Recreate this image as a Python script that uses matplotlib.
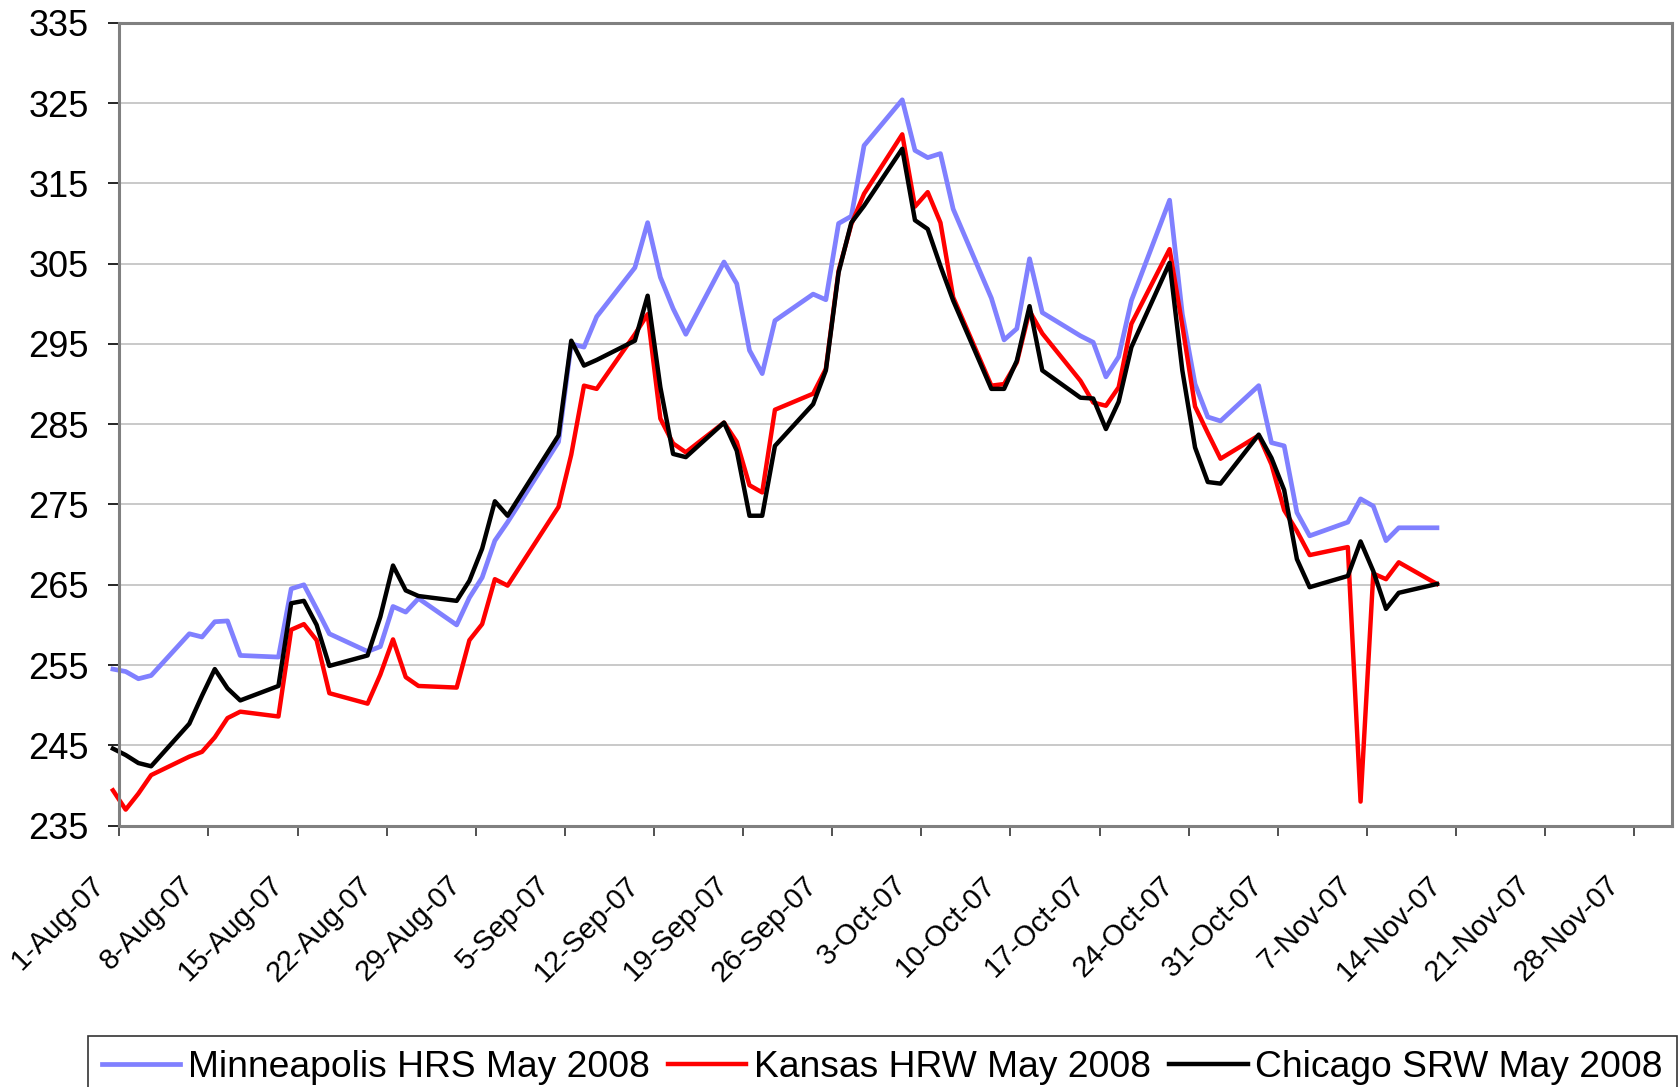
import pandas as pd
import matplotlib
matplotlib.use('Agg')
import matplotlib.pyplot as plt
from matplotlib.transforms import ScaledTranslation

plt.rcParams['font.family'] = ['Liberation Sans', 'DejaVu Sans']

# Trading days shown on the chart
dates = ['2007-07-31', '2007-08-01', '2007-08-02', '2007-08-03',
         '2007-08-06', '2007-08-07', '2007-08-08', '2007-08-09', '2007-08-10',
         '2007-08-13', '2007-08-14', '2007-08-15', '2007-08-16', '2007-08-17',
         '2007-08-20', '2007-08-21', '2007-08-22', '2007-08-23', '2007-08-24',
         '2007-08-27', '2007-08-28', '2007-08-29', '2007-08-30', '2007-08-31',
         '2007-09-04', '2007-09-05', '2007-09-06', '2007-09-07',
         '2007-09-10', '2007-09-11', '2007-09-12', '2007-09-13', '2007-09-14',
         '2007-09-17', '2007-09-18', '2007-09-19', '2007-09-20', '2007-09-21',
         '2007-09-24', '2007-09-25', '2007-09-26', '2007-09-27', '2007-09-28',
         '2007-10-01', '2007-10-02', '2007-10-03', '2007-10-04', '2007-10-05',
         '2007-10-08', '2007-10-09', '2007-10-10', '2007-10-11', '2007-10-12',
         '2007-10-15', '2007-10-16', '2007-10-17', '2007-10-18', '2007-10-19',
         '2007-10-22', '2007-10-23', '2007-10-24', '2007-10-25', '2007-10-26',
         '2007-10-29', '2007-10-30', '2007-10-31', '2007-11-01', '2007-11-02',
         '2007-11-05', '2007-11-06', '2007-11-07', '2007-11-08', '2007-11-09',
         '2007-11-12']

minneapolis = [254.5, 254.2, 253.3, 253.7,
               258.9, 258.5, 260.4, 260.5, 256.2,
               256.0, 264.5, 265.0, 262.0, 258.9,
               256.7, 257.3, 262.3, 261.6, 263.3,
               260.0, 263.4, 265.9, 270.5, 272.8,
               282.8, 295.0, 294.6, 298.4,
               304.5, 310.1, 303.3, 299.4, 296.2,
               305.2, 302.5, 294.2, 291.3, 297.9,
               301.2, 300.5, 310.0, 310.9, 319.7,
               325.4, 319.1, 318.2, 318.7, 311.8,
               300.7, 295.5, 296.9, 305.6, 298.9,
               296.0, 295.2, 290.9, 293.4, 300.4,
               312.9, 298.7, 290.0, 285.9, 285.4,
               289.8, 282.7, 282.3, 274.0, 271.1,
               272.8, 275.7, 274.8, 270.5, 272.1,
               272.1]

kansas = [239.4, 237.0, 239.0, 241.3,
          243.6, 244.2, 246.0, 248.4, 249.2,
          248.6, 259.4, 260.1, 258.1, 251.5,
          250.2, 253.8, 258.2, 253.5, 252.4,
          252.2, 258.1, 260.1, 265.7, 264.9,
          274.7, 281.2, 289.8, 289.4,
          296.2, 298.7, 285.7, 282.6, 281.5,
          285.2, 282.8, 277.4, 276.5, 286.8,
          288.8, 291.9, 304.1, 309.9, 313.7,
          321.1, 312.1, 313.9, 310.1, 300.8,
          289.8, 290.0, 292.7, 299.1, 296.3,
          290.4, 287.7, 287.3, 289.6, 297.5,
          306.8, 297.3, 287.2, 283.9, 280.7,
          283.6, 280.0, 274.3, 271.7, 268.7,
          269.7, 238.0, 266.4, 265.7, 267.8,
          265.1]

chicago = [244.6, 243.8, 242.8, 242.4,
           247.7, 251.2, 254.5, 252.1, 250.6,
           252.4, 262.7, 263.0, 260.0, 254.9,
           256.2, 261.0, 267.4, 264.3, 263.6,
           263.0, 265.5, 269.5, 275.4, 273.6,
           283.6, 295.4, 292.3, 293.0,
           295.4, 301.0, 289.6, 281.3, 280.9,
           285.2, 281.7, 273.6, 273.6, 282.3,
           287.5, 291.7, 303.9, 310.1, 312.2,
           319.3, 310.4, 309.3, 304.7, 300.4,
           289.4, 289.4, 292.9, 299.7, 291.7,
           288.3, 288.2, 284.4, 287.8, 294.6,
           305.1, 291.7, 282.1, 277.8, 277.6,
           283.7, 280.8, 276.8, 268.2, 264.7,
           266.1, 270.4, 266.7, 262.0, 264.0,
           265.1]

series_names = ['Minneapolis HRS May 2008', 'Kansas HRW May 2008', 'Chicago SRW May 2008']
series_colors = ['#8080FF', '#FF0000', '#000000']

# Excel date axis puts each point in the middle of its day
x = pd.to_datetime(dates) + pd.Timedelta(hours=12)
tick_dates = pd.date_range('2007-08-01', '2007-11-28', freq='7D')
tick_labels = [f"{d.day}-{d.strftime('%b-%y')}" for d in tick_dates]

fig = plt.figure(figsize=(16.78, 10.87), dpi=100)
ax = fig.add_axes([0.0711, 0.2404, 0.9256, 0.7387])

handles = []
for vals, name, col, lw in zip([minneapolis, kansas, chicago], series_names, series_colors, [3.4, 3.2, 3.2]):
    line, = ax.plot(x, vals, color=col, linewidth=lw, label=name, clip_on=False,
                    solid_joinstyle='round')
    handles.append(line)

ax.set_ylim(235, 335)
ax.set_yticks(range(235, 336, 10))
ax.set_xlim(pd.Timestamp('2007-08-01'), pd.Timestamp('2007-12-01'))
ax.set_xticks(tick_dates)
ax.set_xticklabels(tick_labels, rotation=45, ha='right', va='center', rotation_mode='anchor')

ax.grid(axis='y', color='#c0c0c0', linewidth=1.2)
ax.set_axisbelow(True)
for s in ax.spines.values():
    s.set_color('#808080')
    s.set_linewidth(2.2)

ax.tick_params(axis='y', direction='out', length=8, width=1.2, color='black',
               labelsize=26, pad=14)
ax.tick_params(axis='x', direction='out', length=7.5, width=1.2, color='#333333',
               labelsize=21, pad=32)
shift = ScaledTranslation(-19 / 100, 0, fig.dpi_scale_trans)
for lab in ax.get_xticklabels():
    lab.set_transform(lab.get_transform() + shift)

leg = fig.legend(handles, series_names, loc='upper left',
                 bbox_to_anchor=(88 / 1678, 1 - 1036 / 1087), ncol=3,
                 fontsize=26.8, frameon=True, fancybox=False, edgecolor='black',
                 borderpad=0.38, handlelength=2.1, handletextpad=0.2,
                 columnspacing=0.5, borderaxespad=0)
leg.get_frame().set_linewidth(1.2)

fig.savefig('out.png', dpi=100)
